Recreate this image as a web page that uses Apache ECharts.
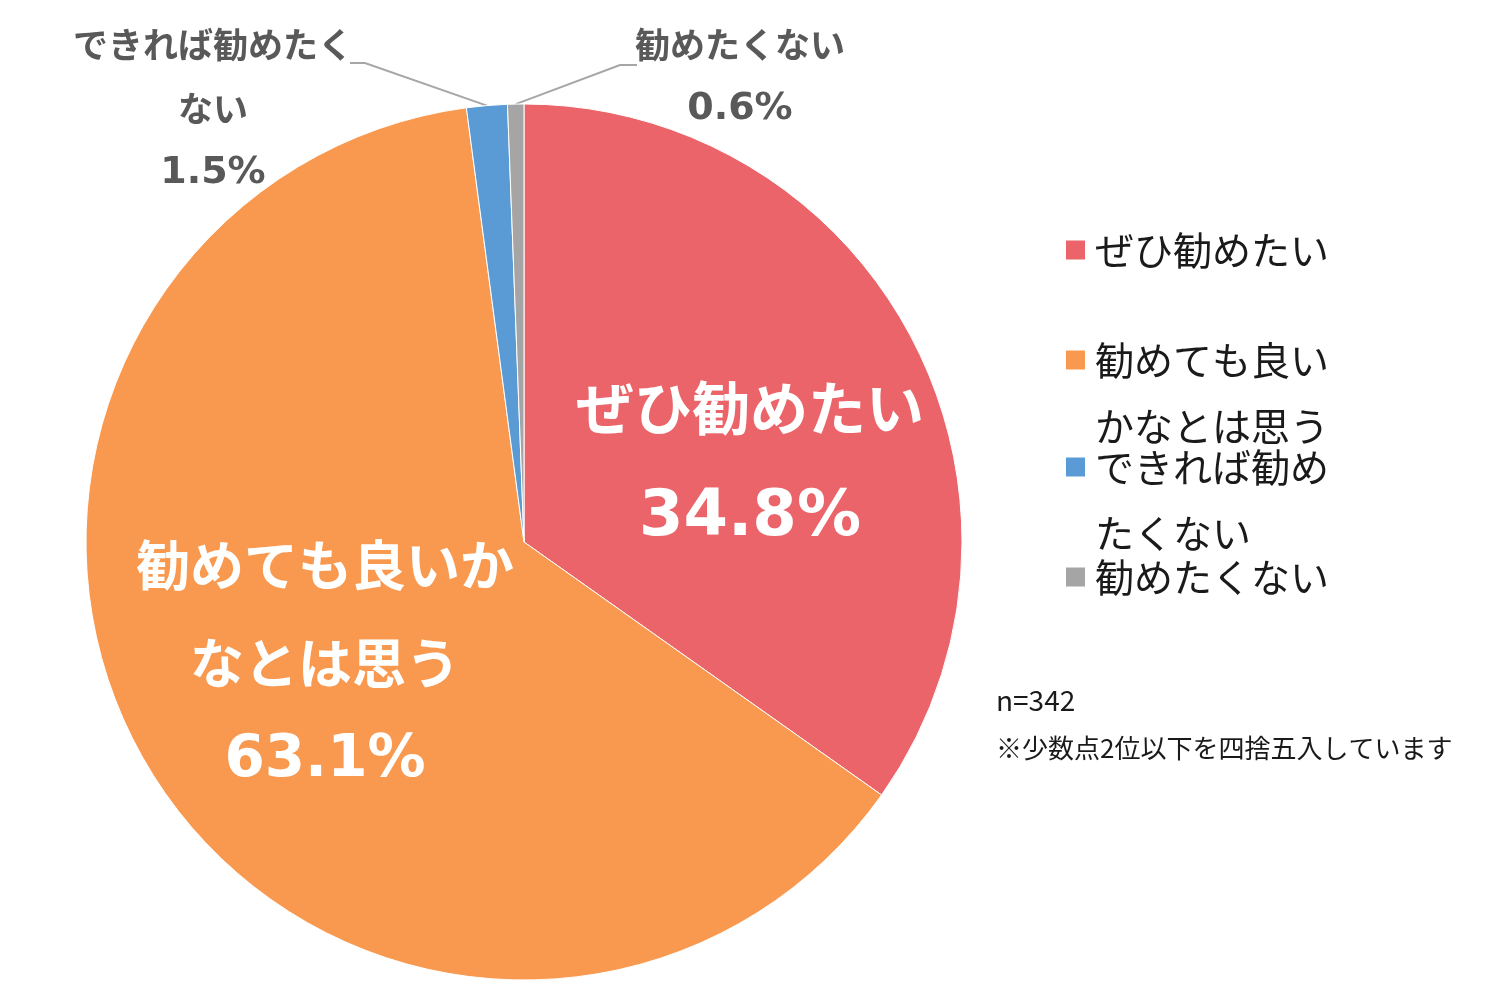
<!DOCTYPE html>
<html>
<head>
<meta charset="utf-8">
<script src="https://cdn.jsdelivr.net/npm/echarts@6/dist/echarts.min.js"></script>
<style>
html,body{margin:0;padding:0;background:#fff;}
#chart{width:1500px;height:1000px;}
</style>
</head>
<body>
<div id="chart"></div>
<script>
const categories = ['ぜひ勧めたい', '勧めても良いかなとは思う', 'できれば勧めたくない', '勧めたくない'];
const values = [34.8, 63.1, 1.5, 0.6];
const labelTexts = ['ぜひ勧めたい', '勧めても良いか\nなとは思う', 'できれば勧めたく\nない', '勧めたくない'];
const legendTexts = ['ぜひ勧めたい', '\n勧めても良い\nかなとは思う', '\nできれば勧め\nたくない', '勧めたくない'];
const sampleNote = 'n=342';
const roundNote = '※少数点2位以下を四捨五入しています';

const colors = ['#EA6469', '#F9994F', '#5B9BD5', '#A5A5A5'];
const JP = '"Noto Sans CJK JP", "Noto Sans", sans-serif';
const NUM = '"DejaVu Sans", "Noto Sans", sans-serif';
const CX = 524, CY = 542, R = 438;

// label layout (positions only)
const labelPos = [
  { x: 750, y: 353, line: null },
  { x: 325, y: 516, line: null },
  { x: 213, y: 13, line: [[365, 63], [350, 63]] },
  { x: 740, y: 13, line: [[620, 65], [637, 65]] }
];
const labelStyles = [
  { position: 'inside', fontSize: 58, numSize: 64, lineHeight: 110, color: '#fff' },
  { position: 'inside', fontSize: 54, numSize: 58, lineHeight: 98, color: '#fff' },
  { position: 'outside', fontSize: 35, numSize: 38, lineHeight: 64, color: '#595959' },
  { position: 'outside', fontSize: 35, numSize: 38, lineHeight: 64, color: '#595959' }
];
const legendCenters = [250, 360, 467, 577];
const legendBlockLines = [1, 3, 3, 1];
const LH = 66;

function edgePoint(i) {
  let cum = 0;
  for (let k = 0; k < i; k++) cum += values[k];
  const total = values.reduce((a, b) => a + b, 0);
  const mid = (cum + values[i] / 2) / total * Math.PI * 2;
  return [CX + R * Math.sin(mid), CY - R * Math.cos(mid)];
}

const data = categories.map((name, i) => ({
  name: name,
  value: values[i],
  itemStyle: { color: colors[i] },
  label: {
    show: true,
    position: labelStyles[i].position,
    fontFamily: JP,
    fontWeight: 'bold',
    fontSize: labelStyles[i].fontSize,
    lineHeight: labelStyles[i].lineHeight,
    color: labelStyles[i].color,
    align: 'center',
    rich: {
      p: {
        fontFamily: NUM,
        fontWeight: 'bold',
        fontSize: labelStyles[i].numSize,
        lineHeight: labelStyles[i].lineHeight,
        color: labelStyles[i].color
      }
    }
  },
  labelLine: {
    show: labelStyles[i].position === 'outside',
    lineStyle: { color: '#A6A6A6', width: 2 }
  }
}));

const legends = categories.map((name, i) => ({
  data: [name],
  orient: 'vertical',
  left: 1064,
  top: legendCenters[i] - LH * legendBlockLines[i] / 2,
  padding: 0,
  icon: 'rect',
  itemWidth: 21,
  itemHeight: 21,
  selectedMode: false,
  formatter: () => legendTexts[i],
  textStyle: {
    fontFamily: JP,
    fontSize: 39,
    lineHeight: LH,
    color: '#1a1a1a',
    padding: [0, 0, 0, 4]
  }
}));

const chart = echarts.init(document.getElementById('chart'), null, { renderer: 'canvas' });
chart.setOption({
  backgroundColor: '#fff',
  animation: false,
  legend: legends,
  series: [{
    type: 'pie',
    center: [CX, CY],
    radius: R,
    startAngle: 90,
    clockwise: true,
    avoidLabelOverlap: false,
    itemStyle: { borderColor: '#fff', borderWidth: 1 },
    label: {
      formatter: p => labelTexts[p.dataIndex] + '\n{p|' + values[p.dataIndex].toFixed(1) + '%}'
    },
    labelLayout: function (params) {
      const i = params.dataIndex;
      const L = labelPos[i];
      const out = { x: L.x, y: L.y, align: 'center', verticalAlign: 'top' };
      if (L.line) {
        const p0 = (params.labelLinePoints && params.labelLinePoints[0]) || edgePoint(i);
        out.labelLinePoints = [p0, L.line[0], L.line[1]];
      }
      return out;
    },
    data: data
  }],
  graphic: [
    { type: 'text', left: 996, top: 686, style: { text: sampleNote, font: '28px ' + JP, fill: '#1a1a1a' } },
    { type: 'text', left: 996, top: 735, style: { text: roundNote, font: '26px ' + JP, fill: '#1a1a1a' } }
  ]
});
</script>
</body>
</html>
